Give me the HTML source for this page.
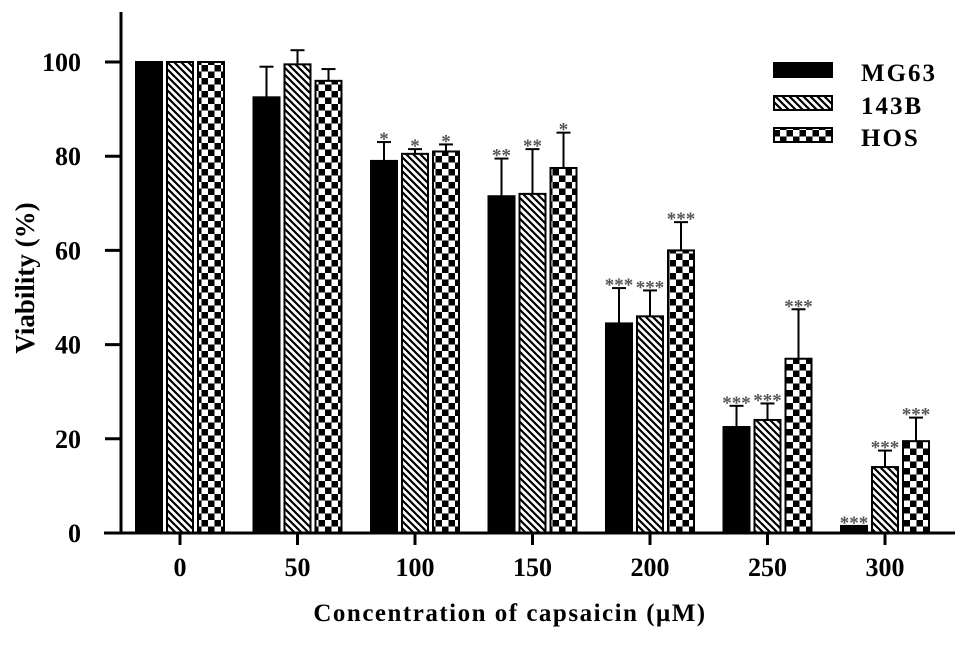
<!DOCTYPE html>
<html><head><meta charset="utf-8"><style>
body{margin:0;background:#fff}
svg text{font-family:"Liberation Serif",serif;font-weight:bold}
</style></head><body>
<svg width="969" height="643">
<defs>
<pattern id="hatch" patternUnits="userSpaceOnUse" width="7" height="7">
<rect width="7" height="7" fill="#fff"/>
<path d="M-2,-2 L9,9 M-2,5 L2,9 M5,-2 L9,2" stroke="#000" stroke-width="2.2"/>
</pattern>
<pattern id="check" patternUnits="userSpaceOnUse" width="13" height="13" x="0" y="0">
<rect width="13" height="13" fill="#fff"/>
<rect x="6.5" y="0" width="6.5" height="6.5" fill="#000"/>
<rect x="0" y="6.5" width="6.5" height="6.5" fill="#000"/>
</pattern>
</defs>
<g id="plot"></g>
<g id="legend">
<rect x="774" y="63" width="58" height="14" fill="#000" stroke="#000" stroke-width="2"/>
<text x="861" y="81" font-size="25" letter-spacing="2">MG63</text>
<rect x="774" y="96" width="58" height="14" fill="url(#hatch)" stroke="#000" stroke-width="2"/>
<text x="861" y="114" font-size="25" letter-spacing="2">143B</text>
<rect x="774" y="128" width="58" height="14" fill="url(#check)" stroke="#000" stroke-width="2"/>
<text x="861" y="146" font-size="25" letter-spacing="2">HOS</text>
</g>
<text x="510" y="621" font-size="25" letter-spacing="1.5" text-anchor="middle">Concentration of capsaicin (μM)</text>
<text transform="translate(34,278) rotate(-90)" font-size="27" text-anchor="middle">Viability (%)</text>
</svg>
<script>
const categories=["0","50","100","150","200","250","300"];
const mg63=[100,92.5,79,71.5,44.5,22.5,1.5];
const mg63Err=[0,6.5,4,8,7.5,4.5,0];
const b143=[100,99.5,80.5,72,46,24,14];
const b143Err=[0,3,1,9.5,5.5,3.5,3.5];
const hos=[100,96,81,77.5,60,37,19.5];
const hosErr=[0,2.5,1.5,7.5,6,10.5,5];
const mg63Stars=["","","*","**","***","***","***"];
const b143Stars=["","","*","**","***","***","***"];
const hosStars=["","","*","*","***","***","***"];
const yTicks=[0,20,40,60,80,100];

const NS="http://www.w3.org/2000/svg";
const g=document.getElementById('plot');
const y0=533,pxPer=4.71;
function yS(v){return y0-v*pxPer;}
function xC(i){return 180+i*117.5;}
function mk(tag,attrs){const e=document.createElementNS(NS,tag);for(const k in attrs)e.setAttribute(k,attrs[k]);g.appendChild(e);return e;}

const series=[{v:mg63,e:mg63Err,s:mg63Stars,fill:"#000",n:"mg63"},{v:b143,e:b143Err,s:b143Stars,fill:"url(#hatch)",n:"143b"},{v:hos,e:hosErr,s:hosStars,fill:"url(#check)",n:"hos"}];
const bw=26,pitch=31;
categories.forEach((c,i)=>{
  series.forEach((s,j)=>{
    const cx=xC(i)+(j-1)*pitch;
    const top=yS(s.v[i]);
    if(s.e[i]>0){
      const et=yS(s.v[i]+s.e[i]);
      const l=mk('line',{x1:cx,x2:cx,y1:top,y2:et,stroke:'#000','stroke-width':2});
      
      
      const cap=mk('line',{x1:cx-7,x2:cx+7,y1:et,y2:et,stroke:'#000','stroke-width':2});
      
      
    }
    const r=mk('rect',{x:cx-bw/2,y:top,width:bw,height:y0-top,fill:s.fill,stroke:'#000','stroke-width':2});
    
    
    if(s.s[i]){
      const ty=yS(s.v[i]+s.e[i])-6;
      const t=mk('text',{x:cx,y:ty+9,'font-size':19,'text-anchor':'middle',fill:'#555'});
      t.textContent=s.s[i];
      
      
    }
  });
  const tk=mk('line',{x1:xC(i),x2:xC(i),y1:y0,y2:y0+12,stroke:'#000','stroke-width':3});
  
  
  const tl=mk('text',{x:xC(i),y:576,'font-size':26,'text-anchor':'middle'});
  tl.textContent=c;
  
  
});
yTicks.forEach(v=>{
  const tk=mk('line',{x1:105,x2:122,y1:yS(v),y2:yS(v),stroke:'#000','stroke-width':3});
  
  
  const tl=mk('text',{x:81,y:yS(v)+9,'font-size':26,'text-anchor':'end'});
  tl.textContent=v;
  
  
});
const ya=mk('line',{x1:121,x2:121,y1:12,y2:534.5,stroke:'#000','stroke-width':3});


const xa=mk('line',{x1:104,x2:955,y1:533,y2:533,stroke:'#000','stroke-width':3});


</script>
</body></html>
